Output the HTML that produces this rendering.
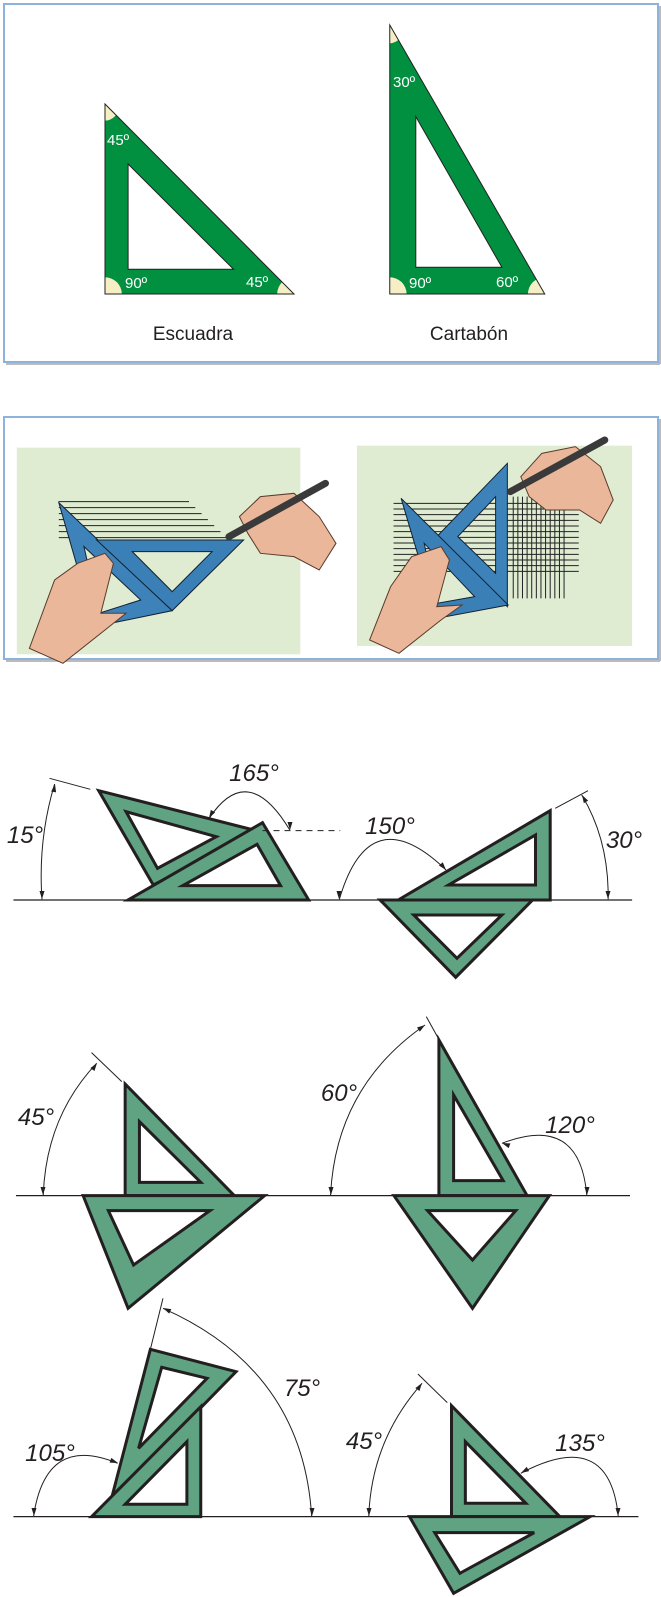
<!DOCTYPE html>
<html><head><meta charset="utf-8"><style>
html,body{margin:0;padding:0;background:#fff}
svg{display:block}
.t{font-family:"Liberation Sans",sans-serif;font-style:italic;font-size:24px;fill:#231f20}
.w{font-family:"Liberation Sans",sans-serif;font-size:15px;fill:#fff}
.c{font-family:"Liberation Sans",sans-serif;font-size:19px;fill:#231f20}
</style></head><body>
<svg width="661" height="1597" viewBox="0 0 661 1597" xmlns="http://www.w3.org/2000/svg">
<defs>
<clipPath id="ce"><polygon points="250,312 250,882 700,882"/></clipPath>
<clipPath id="cc"><polygon points="928,75 928,882 1297,882"/></clipPath>
</defs>
<!-- Panel 1 -->
<rect x="4" y="4" width="654" height="358" fill="#fff" stroke="#8db3dc" stroke-width="2"/>
<line x1="6" y1="364" x2="660" y2="364" stroke="#bbb" stroke-width="2"/>
<line x1="660" y1="6" x2="660" y2="364" stroke="#bbb" stroke-width="2"/>
<g transform="scale(0.42,0.3333)">
 <g clip-path="url(#ce)"><polygon points="250,312 250,882 700,882" fill="#00903f"/>
  <ellipse cx="250" cy="312" rx="35" ry="50" fill="#f6efc5"/><ellipse cx="250" cy="882" rx="40" ry="50" fill="#f6efc5"/><ellipse cx="700" cy="882" rx="40" ry="50" fill="#f6efc5"/></g>
 <polygon points="250,312 250,882 700,882" fill="none" stroke="#222" stroke-width="1" vector-effect="non-scaling-stroke"/>
 <polygon points="305,492 305,808 556,808" fill="#fff" stroke="#222" stroke-width="1" vector-effect="non-scaling-stroke"/>
 <g clip-path="url(#cc)"><polygon points="928,75 928,882 1297,882" fill="#00903f"/>
  <ellipse cx="928" cy="75" rx="35" ry="55" fill="#f6efc5"/><ellipse cx="928" cy="882" rx="40" ry="50" fill="#f6efc5"/><ellipse cx="1297" cy="882" rx="40" ry="50" fill="#f6efc5"/></g>
 <polygon points="928,75 928,882 1297,882" fill="none" stroke="#222" stroke-width="1" vector-effect="non-scaling-stroke"/>
 <polygon points="990,350 990,802 1195,802" fill="#fff" stroke="#222" stroke-width="1" vector-effect="non-scaling-stroke"/>
</g>
<text class="w" x="107" y="145">45º</text>
<text class="w" x="125" y="288">90º</text>
<text class="w" x="246" y="287">45º</text>
<text class="w" x="393" y="87">30º</text>
<text class="w" x="409" y="288">90º</text>
<text class="w" x="496" y="287">60º</text>
<text class="c" x="193" y="340" text-anchor="middle">Escuadra</text>
<text class="c" x="469" y="340" text-anchor="middle">Cartabón</text>

<!-- Panel 2 -->
<rect x="4" y="417" width="654" height="242" fill="#fff" stroke="#8db3dc" stroke-width="2"/>
<line x1="6" y1="661" x2="660" y2="661" stroke="#bbb" stroke-width="2"/>
<line x1="660" y1="419" x2="660" y2="661" stroke="#bbb" stroke-width="2"/>
<g transform="translate(0,400) scale(0.42,0.3333)">
 <rect x="40" y="143" width="675" height="620" fill="#dfecd2"/>
 <rect x="850" y="137" width="655" height="601" fill="#dfecd2"/>
 <g stroke="#222" stroke-width="1">
  <path d="M140,305H450M140,323H465M140,341H480M140,359H495M140,377H510M140,395H525M140,413H540" vector-effect="non-scaling-stroke"/>
 </g>
 <path d="M140,308 L410,632 L225,680 Z M200,440 L235,640 L335,600 Z" fill="#3d82b8" fill-rule="evenodd" stroke="#123" stroke-width="1" vector-effect="non-scaling-stroke"/>
 <path d="M230,420 L580,420 L410,632 Z M315,455 L410,575 L505,455 Z" fill="#3a7fb6" fill-rule="evenodd" stroke="#123" stroke-width="1" vector-effect="non-scaling-stroke"/>
 <polygon points="70,745 130,540 185,490 250,460 270,490 240,640 300,640 250,690 150,790" fill="#eab79a" stroke="#5a3a2a" stroke-width="1" vector-effect="non-scaling-stroke"/>
 <polygon points="570,350 620,290 700,280 760,350 800,430 760,510 700,470 620,460 590,400" fill="#eab79a" stroke="#5a3a2a" stroke-width="1" vector-effect="non-scaling-stroke"/>
 <line x1="545" y1="410" x2="775" y2="250" stroke="#3a3a3a" stroke-width="7" stroke-linecap="round" vector-effect="non-scaling-stroke"/>
 <g stroke="#222" stroke-width="1">
  <path d="M937,310H1378M937,327H1378M937,344H1378M937,361H1378M937,378H1378M937,395H1378M937,412H1378M937,429H1378M937,446H1378M937,463H1378M937,480H1378M937,497H1378M937,514H1378" vector-effect="non-scaling-stroke"/>
  <path d="M1222,290V595M1233,290V595M1244,290V595M1255,290V595M1266,290V595M1277,290V595M1288,290V595M1299,290V595M1310,290V595M1321,290V595M1332,290V595M1343,290V595" vector-effect="non-scaling-stroke"/>
 </g>
 <path d="M1208,190 L1208,620 L1040,410 Z M1180,290 L1090,410 L1180,520 Z" fill="#3d82b8" fill-rule="evenodd" stroke="#123" stroke-width="1" vector-effect="non-scaling-stroke"/>
 <path d="M955,295 L1210,615 L1040,655 Z M1010,430 L1040,610 L1130,590 Z" fill="#3a7fb6" fill-rule="evenodd" stroke="#123" stroke-width="1" vector-effect="non-scaling-stroke"/>
 <polygon points="880,720 930,560 980,470 1050,440 1070,480 1040,620 1100,615 1050,660 950,760" fill="#eab79a" stroke="#5a3a2a" stroke-width="1" vector-effect="non-scaling-stroke"/>
 <polygon points="1240,230 1290,160 1370,140 1430,200 1460,300 1430,370 1380,330 1300,330 1260,290" fill="#eab79a" stroke="#5a3a2a" stroke-width="1" vector-effect="non-scaling-stroke"/>
 <line x1="1215" y1="275" x2="1440" y2="120" stroke="#3a3a3a" stroke-width="7" stroke-linecap="round" vector-effect="non-scaling-stroke"/>
</g>

<!-- Row 1 -->
<g transform="translate(0,740) scale(0.42,0.3333)" fill="none" stroke="#231f20">
 <line x1="32" y1="480" x2="1505" y2="480" stroke-width="1.3" vector-effect="non-scaling-stroke"/>
 <line x1="118" y1="115" x2="215" y2="148" stroke-width="1" vector-effect="non-scaling-stroke"/>
 <path d="M130,132 Q90,300 100,478" stroke-width="1" vector-effect="non-scaling-stroke"/>
 <path d="M235,152 L620,275 L365,435 Z M300,215 L375,385 L515,290 Z" fill="#5fa383" fill-rule="evenodd" stroke-width="3" vector-effect="non-scaling-stroke"/>
 <path d="M305,480 L625,248 L735,480 Z M435,437 L668,437 L612,313 Z" fill="#5fa383" fill-rule="evenodd" stroke-width="3" vector-effect="non-scaling-stroke"/>
 <line x1="625" y1="272" x2="810" y2="272" stroke-width="1" stroke-dasharray="6,5" vector-effect="non-scaling-stroke"/>
 <path d="M498,235 Q590,60 690,270" stroke-width="1" vector-effect="non-scaling-stroke"/>
 <path d="M808,478 Q880,170 1062,390" stroke-width="1" vector-effect="non-scaling-stroke"/>
 <path d="M948,480 L1310,212 L1310,480 Z M1068,435 L1275,435 L1275,285 Z" fill="#5fa383" fill-rule="evenodd" stroke-width="3" vector-effect="non-scaling-stroke"/>
 <path d="M905,480 L1268,480 L1085,712 Z M985,525 L1088,655 L1195,525 Z" fill="#5fa383" fill-rule="evenodd" stroke-width="3" vector-effect="non-scaling-stroke"/>
 <line x1="1322" y1="205" x2="1400" y2="152" stroke-width="1" vector-effect="non-scaling-stroke"/>
 <path d="M1385,165 Q1450,300 1448,478" stroke-width="1" vector-effect="non-scaling-stroke"/>
</g>
<text class="t" x="25" y="843" text-anchor="middle">15°</text>
<text class="t" x="254" y="781" text-anchor="middle">165°</text>
<text class="t" x="390" y="834" text-anchor="middle">150°</text>
<text class="t" x="624" y="848" text-anchor="middle">30°</text>

<!-- Row 2 -->
<g transform="translate(0,1000) scale(0.42,0.3333)" fill="none" stroke="#231f20">
 <line x1="38" y1="587" x2="1500" y2="587" stroke-width="1.3" vector-effect="non-scaling-stroke"/>
 <line x1="218" y1="158" x2="290" y2="245" stroke-width="1" vector-effect="non-scaling-stroke"/>
 <path d="M230,190 Q110,350 103,585" stroke-width="1" vector-effect="non-scaling-stroke"/>
 <path d="M298,252 L298,587 L558,587 Z M332,365 L332,547 L478,547 Z" fill="#5fa383" fill-rule="evenodd" stroke-width="3" vector-effect="non-scaling-stroke"/>
 <path d="M198,587 L630,587 L305,925 Z M258,632 L318,795 L500,632 Z" fill="#5fa383" fill-rule="evenodd" stroke-width="3" vector-effect="non-scaling-stroke"/>
 <line x1="1015" y1="50" x2="1045" y2="118" stroke-width="1" vector-effect="non-scaling-stroke"/>
 <path d="M1012,75 Q800,260 787,585" stroke-width="1" vector-effect="non-scaling-stroke"/>
 <path d="M1045,120 L1045,587 L1255,587 Z M1080,285 L1080,542 L1198,542 Z" fill="#5fa383" fill-rule="evenodd" stroke-width="3" vector-effect="non-scaling-stroke"/>
 <path d="M1195,430 Q1380,340 1397,585" stroke-width="1" vector-effect="non-scaling-stroke"/>
 <path d="M938,587 L1308,587 L1125,925 Z M1018,632 L1125,780 L1228,632 Z" fill="#5fa383" fill-rule="evenodd" stroke-width="3" vector-effect="non-scaling-stroke"/>
</g>
<text class="t" x="36" y="1125" text-anchor="middle">45°</text>
<text class="t" x="339" y="1101" text-anchor="middle">60°</text>
<text class="t" x="570" y="1133" text-anchor="middle">120°</text>

<!-- Row 3 -->
<g transform="translate(0,1260) scale(0.42,0.3333)" fill="none" stroke="#231f20">
 <line x1="32" y1="770" x2="1520" y2="770" stroke-width="1.3" vector-effect="non-scaling-stroke"/>
 <line x1="388" y1="115" x2="358" y2="268" stroke-width="1" vector-effect="non-scaling-stroke"/>
 <path d="M388,145 Q720,330 742,768" stroke-width="1" vector-effect="non-scaling-stroke"/>
 <path d="M358,268 L562,335 L265,718 Z M385,322 L330,565 L493,355 Z" fill="#5fa383" fill-rule="evenodd" stroke-width="3" vector-effect="non-scaling-stroke"/>
 <path d="M218,770 L478,440 L478,770 Z M298,733 L445,733 L445,545 Z" fill="#5fa383" fill-rule="evenodd" stroke-width="3" vector-effect="non-scaling-stroke"/>
 <path d="M280,610 Q110,520 80,768" stroke-width="1" vector-effect="non-scaling-stroke"/>
 <line x1="995" y1="342" x2="1065" y2="428" stroke-width="1" vector-effect="non-scaling-stroke"/>
 <path d="M1005,370 Q885,540 878,768" stroke-width="1" vector-effect="non-scaling-stroke"/>
 <path d="M1075,437 L1075,770 L1333,770 Z M1108,545 L1108,730 L1252,730 Z" fill="#5fa383" fill-rule="evenodd" stroke-width="3" vector-effect="non-scaling-stroke"/>
 <path d="M1240,640 Q1450,500 1472,768" stroke-width="1" vector-effect="non-scaling-stroke"/>
 <path d="M975,770 L1405,770 L1080,1000 Z M1035,818 L1095,940 L1272,818 Z" fill="#5fa383" fill-rule="evenodd" stroke-width="3" vector-effect="non-scaling-stroke"/>
</g>
<text class="t" x="302" y="1396" text-anchor="middle">75°</text>
<text class="t" x="50" y="1461" text-anchor="middle">105°</text>
<text class="t" x="364" y="1449" text-anchor="middle">45°</text>
<text class="t" x="580" y="1451" text-anchor="middle">135°</text>

<!-- arrowheads -->
<g fill="#231f20">
 <polygon points="0,0 -2.5,-8 2.5,-8" transform="translate(42,899) rotate(0)"/>
 <polygon points="0,0 -2.5,-8 2.5,-8" transform="translate(55,784) rotate(190)"/>
 <polygon points="0,0 -2.5,-8 2.5,-8" transform="translate(209,818) rotate(30)"/>
 <polygon points="0,0 -2.5,-8 2.5,-8" transform="translate(290,830) rotate(0)"/>
 <polygon points="0,0 -2.5,-8 2.5,-8" transform="translate(339,899) rotate(0)"/>
 <polygon points="0,0 -2.5,-8 2.5,-8" transform="translate(446,870) rotate(-40)"/>
 <polygon points="0,0 -2.5,-8 2.5,-8" transform="translate(582,795) rotate(150)"/>
 <polygon points="0,0 -2.5,-8 2.5,-8" transform="translate(608,899) rotate(0)"/>
 <polygon points="0,0 -2.5,-8 2.5,-8" transform="translate(97,1063) rotate(215)"/>
 <polygon points="0,0 -2.5,-8 2.5,-8" transform="translate(43,1195) rotate(0)"/>
 <polygon points="0,0 -2.5,-8 2.5,-8" transform="translate(425,1025) rotate(235)"/>
 <polygon points="0,0 -2.5,-8 2.5,-8" transform="translate(331,1195) rotate(0)"/>
 <polygon points="0,0 -2.5,-8 2.5,-8" transform="translate(502,1143) rotate(110)"/>
 <polygon points="0,0 -2.5,-8 2.5,-8" transform="translate(587,1195) rotate(0)"/>
 <polygon points="0,0 -2.5,-8 2.5,-8" transform="translate(163,1308) rotate(115)"/>
 <polygon points="0,0 -2.5,-8 2.5,-8" transform="translate(312,1516) rotate(0)"/>
 <polygon points="0,0 -2.5,-8 2.5,-8" transform="translate(118,1463) rotate(-70)"/>
 <polygon points="0,0 -2.5,-8 2.5,-8" transform="translate(34,1516) rotate(0)"/>
 <polygon points="0,0 -2.5,-8 2.5,-8" transform="translate(422,1383) rotate(215)"/>
 <polygon points="0,0 -2.5,-8 2.5,-8" transform="translate(369,1516) rotate(0)"/>
 <polygon points="0,0 -2.5,-8 2.5,-8" transform="translate(521,1473) rotate(60)"/>
 <polygon points="0,0 -2.5,-8 2.5,-8" transform="translate(618,1516) rotate(0)"/>
</g>
</svg>
</body></html>
